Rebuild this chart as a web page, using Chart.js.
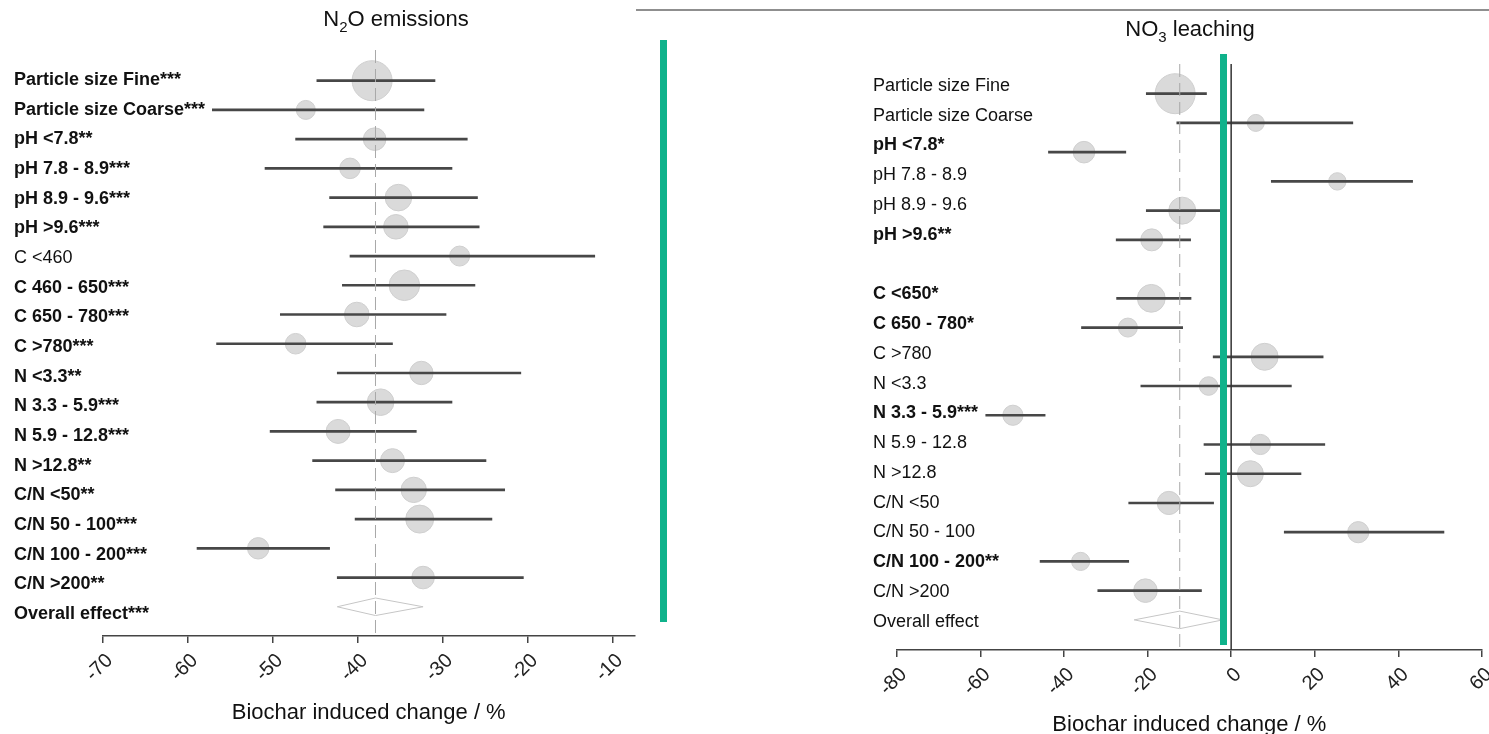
<!DOCTYPE html>
<html>
<head>
<meta charset="utf-8">
<script src="https://cdn.jsdelivr.net/npm/chart.js@4.4.1/dist/chart.umd.min.js"></script>
<style>
  html, body { margin: 0; padding: 0; background: #fff; overflow: hidden; }
  #wrap { position: relative; width: 1489px; height: 734px; overflow: hidden; }
  #n2oChart { position: absolute; left: 0; top: 0; }
  #no3Chart { position: absolute; left: 640px; top: 0; }
  #topline { position: absolute; left: 636px; top: 9px; width: 853px; height: 2px; background: #8f8f8f; }
  .marker { position: absolute; background: #0fb28b; width: 7px; }
</style>
</head>
<body>
<div id="wrap">
  <canvas id="n2oChart" width="640" height="734"></canvas>
  <canvas id="no3Chart" width="849" height="734"></canvas>
  <div id="topline"></div>
  <div class="marker" style="left:660px; top:40px; height:582px;"></div>
  <div class="marker" style="left:1220px; top:54px; height:591px;"></div>
</div>
<script>
// N2O emissions (left panel)
const n2oLabels = ['Particle size Fine***', 'Particle size Coarse***', 'pH <7.8**', 'pH 7.8 - 8.9***',
  'pH 8.9 - 9.6***', 'pH >9.6***', 'C <460', 'C 460 - 650***', 'C 650 - 780***', 'C >780***',
  'N <3.3**', 'N 3.3 - 5.9***', 'N 5.9 - 12.8***', 'N >12.8**', 'C/N <50**', 'C/N 50 - 100***',
  'C/N 100 - 200***', 'C/N >200**'];
const n2oMean = [-38.3, -46.1, -38.0, -40.9, -35.2, -35.5, -28.0, -34.5, -40.1, -47.3,
  -32.5, -37.3, -42.3, -35.9, -33.4, -32.7, -51.7, -32.3];
const n2oLow = [-44.8, -57.1, -47.3, -50.9, -43.3, -44.0, -40.9, -41.8, -49.1, -56.6,
  -42.4, -44.8, -50.3, -45.3, -42.6, -40.3, -58.9, -42.4];
const n2oHigh = [-30.9, -32.2, -27.1, -28.9, -25.9, -25.7, -12.1, -26.2, -29.6, -35.9,
  -20.8, -28.9, -33.1, -24.9, -22.7, -24.2, -43.3, -20.5];
const n2oWeight = [20, 9.5, 11.3, 10.3, 13.3, 12.3, 10, 15.3, 12.3, 10.3,
  11.7, 13.3, 12, 12, 12.7, 14, 10.7, 11.3];
const n2oOverall = [-42.4, -37.9, -32.3]; // low, mean, high
const n2oOverallLabel = 'Overall effect***';
const n2oTicks = [-70, -60, -50, -40, -30, -20, -10];

// NO3 leaching (right panel) - empty row between pH and C groups
const no3Labels = ['Particle size Fine', 'Particle size Coarse', 'pH <7.8*', 'pH 7.8 - 8.9',
  'pH 8.9 - 9.6', 'pH >9.6**', '', 'C <650*', 'C 650 - 780*', 'C >780', 'N <3.3',
  'N 3.3 - 5.9***', 'N 5.9 - 12.8', 'N >12.8', 'C/N <50', 'C/N 50 - 100', 'C/N 100 - 200**', 'C/N >200'];
const no3Mean = [-13.4, 5.9, -35.2, 25.4, -11.7, -19.0, null, -19.1, -24.7, 8.0, -5.4,
  -52.2, 7.0, 4.6, -14.9, 30.4, -36.0, -20.5];
const no3Low = [-20.3, -13.0, -43.7, 9.6, -20.3, -27.5, null, -27.4, -35.8, -4.3, -21.6,
  -58.7, -6.5, -6.2, -24.5, 12.7, -45.7, -31.9];
const no3High = [-5.9, 29.1, -25.2, 43.4, -2.0, -9.7, null, -9.6, -11.6, 22.0, 14.4,
  -44.5, 22.4, 16.7, -4.2, 50.9, -24.5, -7.1];
const no3Weight = [20, 8.5, 10.8, 8.7, 13.5, 11, null, 13.9, 9.5, 13.5, 9.3,
  10.1, 10.1, 13, 11.6, 10.6, 9.1, 11.8];
const no3Overall = [-23.2, -12.3, -2.0];
const no3OverallLabel = 'Overall effect';
const no3Ticks = [-80, -60, -40, -20, 0, 20, 40, 60];

const FONT = '"Liberation Sans", Arial, Helvetica, sans-serif';

// labels, reference lines and panel title
const forestDecor = {
    id: 'forestDecor',
    afterDatasetsDraw(chart, args, opts) {
        const { ctx, chartArea, scales } = chart;
        ctx.save();
        // dashed line at the overall effect
        const px = scales.x.getPixelForValue(opts.overall);
        ctx.strokeStyle = '#a8a8a8';
        ctx.lineWidth = 1;
        ctx.setLineDash([13, 6]);
        ctx.beginPath();
        ctx.moveTo(px, chartArea.top);
        ctx.lineTo(px, chartArea.bottom);
        ctx.stroke();
        ctx.setLineDash([]);
        if (opts.zeroLine) {
            const zx = scales.x.getPixelForValue(0);
            ctx.strokeStyle = '#333';
            ctx.lineWidth = 1.5;
            ctx.beginPath();
            ctx.moveTo(zx, chartArea.top);
            ctx.lineTo(zx, chartArea.bottom);
            ctx.stroke();
        }
        // row labels (bold when significant)
        ctx.fillStyle = '#111';
        ctx.textAlign = 'left';
        ctx.textBaseline = 'middle';
        opts.labels.forEach((lab, i) => {
            ctx.font = (lab.includes('*') ? 'bold ' : '') + '18px ' + FONT;
            ctx.fillText(lab, opts.labelX, scales.yl.getPixelForValue(i));
        });
        // title with subscript
        const [a, sub, b] = opts.title;
        ctx.font = '22px ' + FONT;
        const wa = ctx.measureText(a).width, wb = ctx.measureText(b).width;
        ctx.font = '15px ' + FONT;
        const ws = ctx.measureText(sub).width;
        let x = opts.titleX - (wa + ws + wb) / 2;
        ctx.fillStyle = '#111';
        ctx.font = '22px ' + FONT;
        ctx.fillText(a, x, opts.titleY);
        ctx.font = '15px ' + FONT;
        ctx.fillText(sub, x + wa, opts.titleY + 8);
        ctx.font = '22px ' + FONT;
        ctx.fillText(b, x + wa + ws, opts.titleY);
        ctx.restore();
    }
};

function forestChart(canvasId, p) {
    const ciData = [], dotData = [];
    p.labels.forEach((lab, i) => {
        if (p.mean[i] === null) return;
        ciData.push({ x: [p.low[i], p.high[i]], y: i });
        dotData.push({ x: p.mean[i], y: i, r: p.weight[i] });
    });
    const s = p.labels.length;
    const [oLow, oMean, oHigh] = p.overall;
    const diamond = [
        { x: oLow, y: s }, { x: oMean, y: s - 0.3 }, { x: oHigh, y: s },
        { x: oMean, y: s + 0.3 }, { x: oLow, y: s }
    ];

    return new Chart(document.getElementById(canvasId), {
        type: 'bubble',
        data: {
            datasets: [
                {
                    type: 'bar', indexAxis: 'y', data: ciData, order: 0,
                    backgroundColor: '#474747', borderWidth: 0, barThickness: 2
                },
                {
                    type: 'bubble', data: dotData, order: 1,
                    backgroundColor: '#dadada', borderColor: '#cfcfcf', borderWidth: 1
                },
                {
                    type: 'line', data: diamond, order: 2,
                    borderColor: '#c6c6c6', borderWidth: 1, pointRadius: 0, fill: false, tension: 0
                }
            ]
        },
        options: {
            responsive: false,
            animation: false,
            events: [],
            layout: { autoPadding: false, padding: p.padding },
            plugins: {
                legend: { display: false },
                tooltip: { enabled: false },
                forestDecor: {
                    labels: p.labels.concat([p.overallLabel]),
                    overall: oMean,
                    zeroLine: p.zeroLine,
                    labelX: p.labelX,
                    title: p.title,
                    titleX: p.titleX,
                    titleY: p.titleY
                }
            },
            scales: {
                x: {
                    type: 'linear',
                    min: p.xMin, max: p.xMax, offset: false,
                    afterFit: sc => {
                        sc.height = p.axisHeight;
                        sc.paddingLeft = 0;
                        sc.paddingRight = 0;
                    },
                    afterBuildTicks: sc => { sc.ticks = p.ticks.map(v => ({ value: v })); },
                    ticks: {
                        minRotation: 45, maxRotation: 45, autoSkip: false,
                        color: '#222', font: { family: FONT, size: 20 }, padding: 6, labelOffset: 7
                    },
                    grid: { drawOnChartArea: false, drawTicks: true, tickLength: 7, color: '#444', lineWidth: 1.5, offset: false },
                    border: { display: true, color: '#444', width: 1.5 },
                    title: {
                        display: true, text: 'Biochar induced change / %', color: '#111',
                        font: { family: FONT, size: 22, lineHeight: 0.8 },
                        padding: { top: 0, bottom: p.xTitlePad }
                    }
                },
                y: {
                    type: 'linear', display: false, reverse: true, offset: false,
                    grid: { offset: false }, min: p.yMin, max: p.yMax
                },
                yl: { type: 'linear', display: false, reverse: true, offset: false, min: p.ylMin, max: p.ylMax }
            }
        },
        plugins: [forestDecor]
    });
}

forestChart('n2oChart', {
    labels: n2oLabels, mean: n2oMean, low: n2oLow, high: n2oHigh, weight: n2oWeight,
    overall: n2oOverall, overallLabel: n2oOverallLabel, ticks: n2oTicks,
    xMin: -70, xMax: -7.4, zeroLine: false,
    padding: { left: 102.7, right: 5.3, top: 50, bottom: 0 }, axisHeight: 98, xTitlePad: 12,
    yMin: -1.05, yMax: 19.0, ylMin: -1.011, ylMax: 18.74,
    labelX: 14, title: ['N', '2', 'O emissions'], titleX: 396, titleY: 20
});

forestChart('no3Chart', {
    labels: no3Labels, mean: no3Mean, low: no3Low, high: no3High, weight: no3Weight,
    overall: no3Overall, overallLabel: no3OverallLabel, ticks: no3Ticks,
    xMin: -80, xMax: 60, zeroLine: true,
    padding: { left: 256.7, right: 7, top: 64, bottom: 0 }, axisHeight: 84, xTitlePad: 0,
    yMin: -1.016, yMax: 19.03, ylMin: -0.739, ylMax: 18.95,
    labelX: 233, title: ['NO', '3', ' leaching'], titleX: 550, titleY: 30
});
</script>
</body>
</html>
